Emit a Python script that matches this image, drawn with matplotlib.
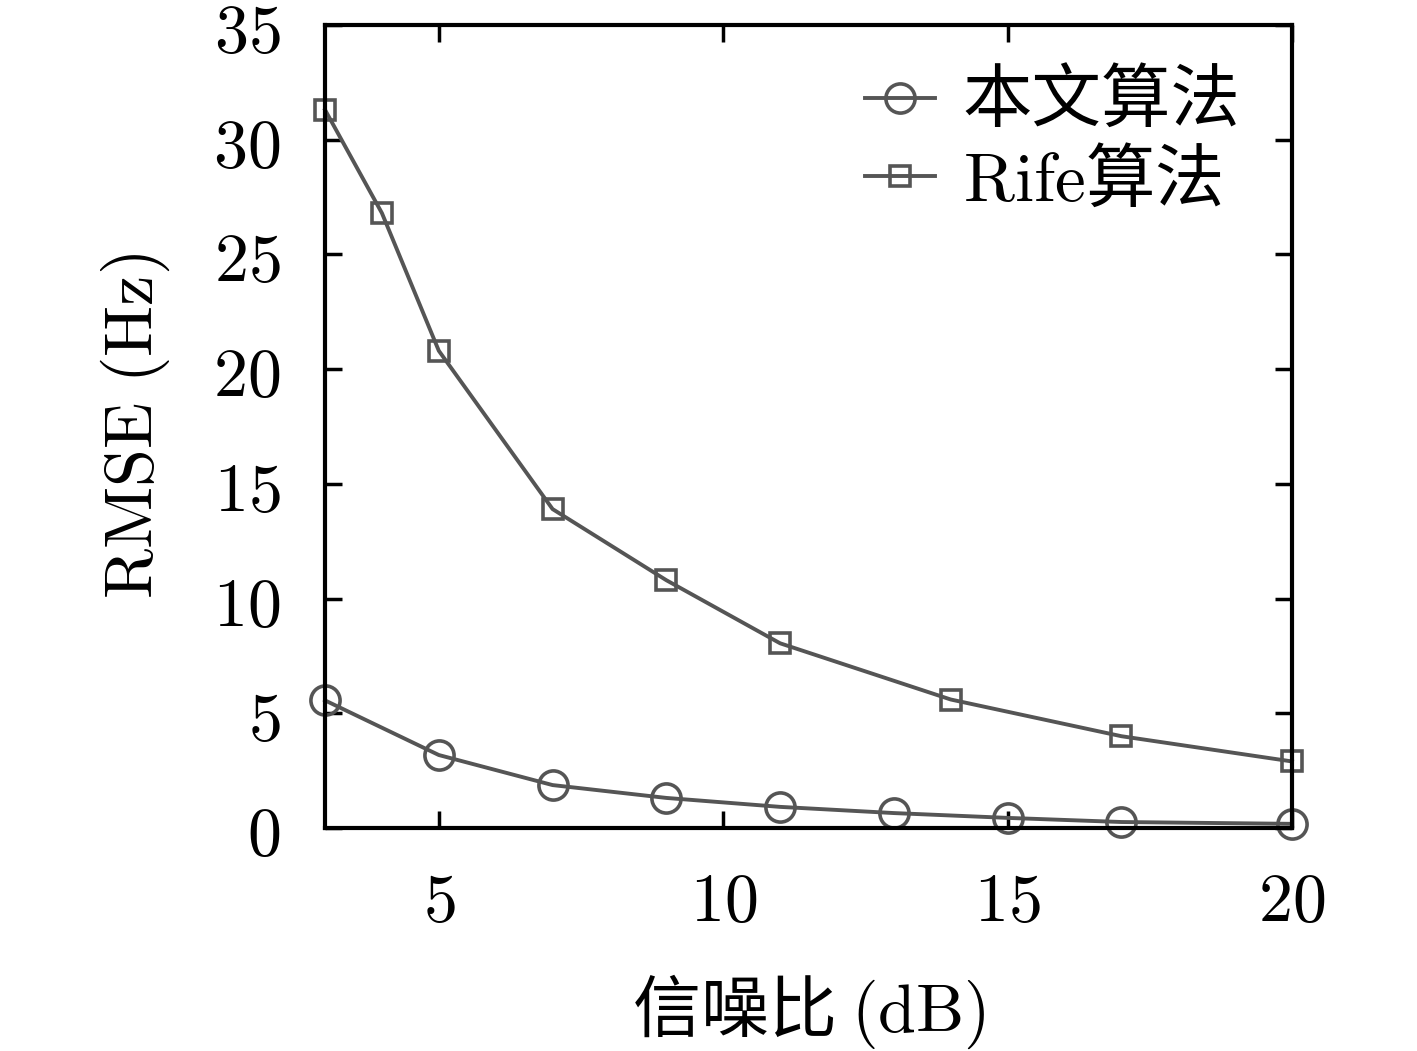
import matplotlib
matplotlib.use('Agg')
import matplotlib.pyplot as plt
from matplotlib.ticker import FixedLocator, FuncFormatter

# data
snr_ours = [3, 5, 7, 9, 11, 13, 15, 17, 20]
rmse_ours = [5.56, 3.18, 1.87, 1.31, 0.92, 0.65, 0.44, 0.26, 0.18]
snr_rife = [3, 4, 5, 7, 9, 11, 14, 17, 20]
rmse_rife = [31.3, 26.8, 20.8, 13.9, 10.8, 8.05, 5.6, 4.0, 2.9]
label_ours = '本文算法'
label_rife = r'$\mathrm{Rife}$算法'
xticks = [5, 10, 15, 20]
yticks = [0, 5, 10, 15, 20, 25, 30, 35]

plt.rcParams['font.family'] = ['Noto Sans CJK SC', 'DejaVu Sans']
plt.rcParams['mathtext.fontset'] = 'cm'

fig = plt.figure(figsize=(14.17, 10.51), dpi=100)
ax = fig.add_axes([0.2294, 0.2122, 0.6824, 0.7640])

gray = '#555555'
ax.plot(snr_ours, rmse_ours, color=gray, lw=2.8, marker='o', ms=21,
        mfc='none', mec=gray, mew=2.6, label=label_ours, clip_on=False)
ax.plot(snr_rife, rmse_rife, color=gray, lw=2.8, marker='s', ms=15,
        mfc='none', mec=gray, mew=2.6, label=label_rife, clip_on=False)

ax.set_xlim(3, 20)
ax.set_ylim(0, 35)
ax.xaxis.set_major_locator(FixedLocator(xticks))
ax.yaxis.set_major_locator(FixedLocator(yticks))
fmt = FuncFormatter(lambda v, p: r'$%d$' % v)
ax.xaxis.set_major_formatter(fmt)
ax.yaxis.set_major_formatter(fmt)
ax.tick_params(direction='in', length=12, width=2.5, labelsize=49,
               top=True, right=True)
ax.tick_params(axis='x', pad=28)
ax.tick_params(axis='y', pad=32)
for s in ax.spines.values():
    s.set_linewidth(3)

ax.set_xlabel(r'信噪比 $\mathrm{(dB)}$', fontsize=49, labelpad=26)
ax.set_ylabel(r'$\mathrm{RMSE\ (Hz)}$', fontsize=49, labelpad=30)

ax.legend(loc='upper right', frameon=False, fontsize=50, handlelength=1.0,
          handletextpad=0.4, labelspacing=0.1, borderaxespad=0.2,
          bbox_to_anchor=(0.99, 1.0))

fig.savefig('out.png', dpi=100)
